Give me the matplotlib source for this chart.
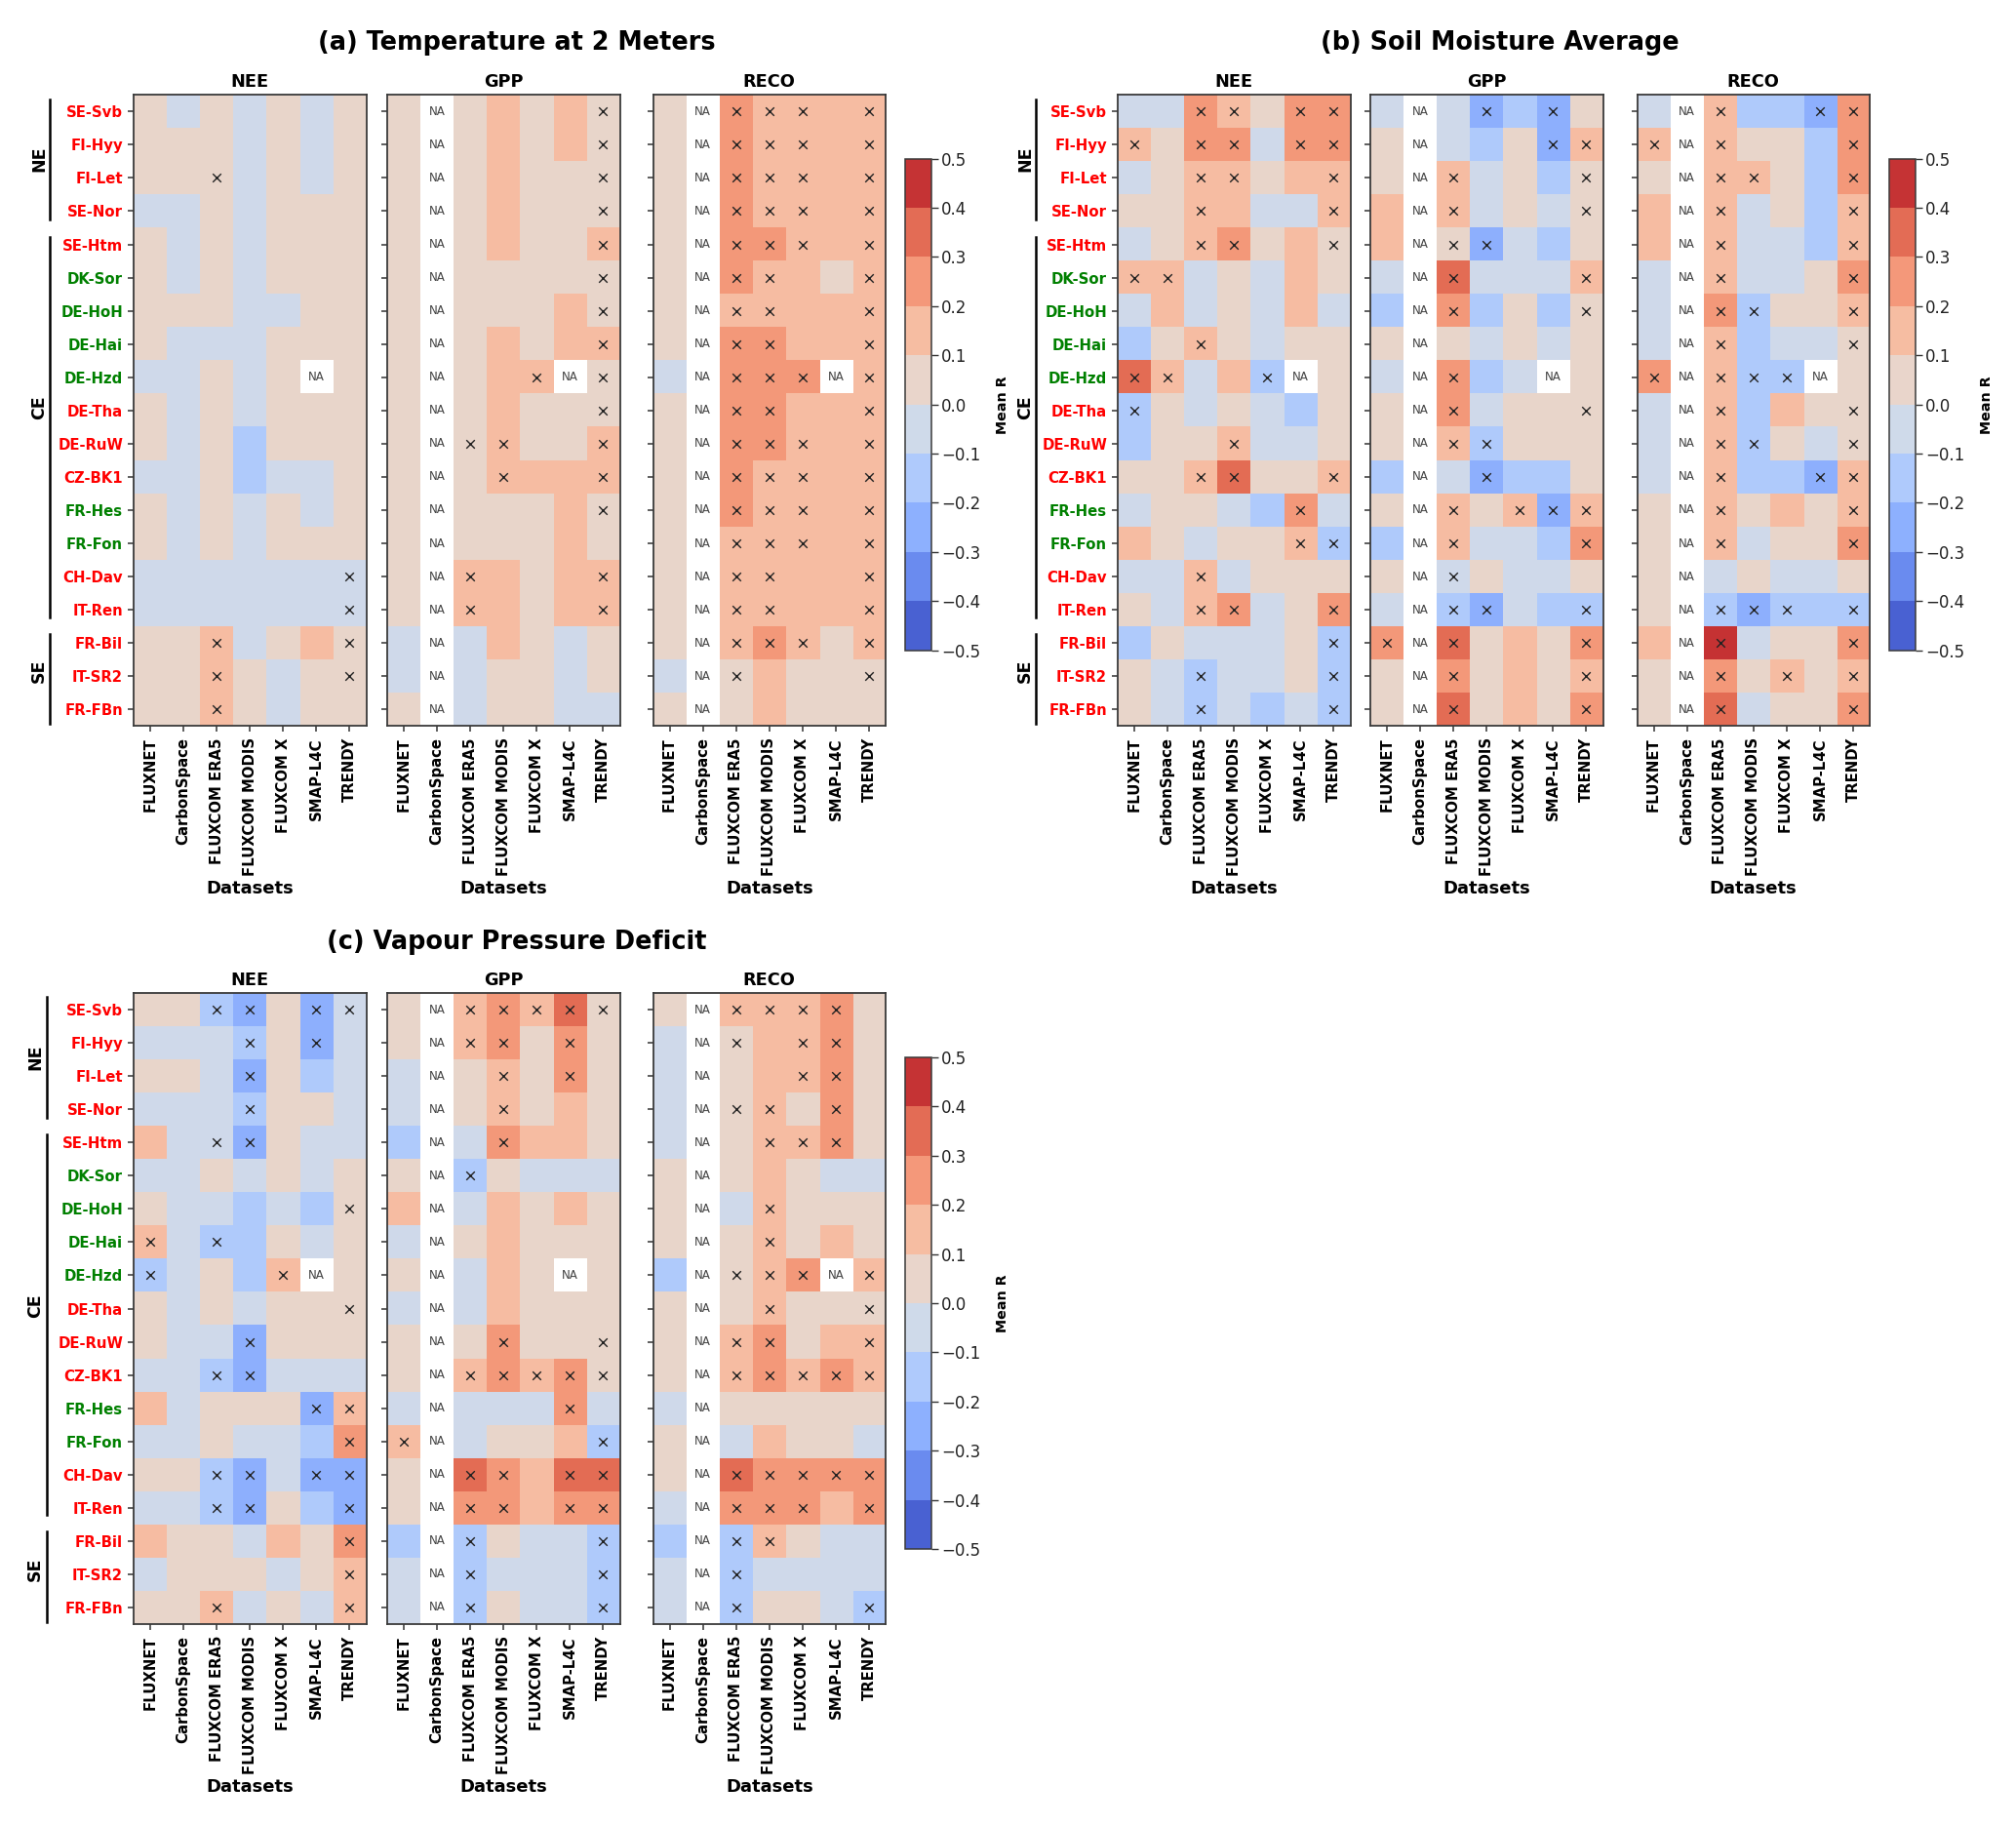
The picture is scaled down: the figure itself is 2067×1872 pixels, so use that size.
#!/usr/bin/env python3
# -*- coding: utf-8 -*-
import numpy as np
import matplotlib
matplotlib.use('Agg')
import matplotlib.pyplot as plt
from matplotlib.colors import BoundaryNorm, ListedColormap
from matplotlib.cm import ScalarMappable

sites = ['SE-Svb', 'FI-Hyy', 'FI-Let', 'SE-Nor', 'SE-Htm', 'DK-Sor', 'DE-HoH',
         'DE-Hai', 'DE-Hzd', 'DE-Tha', 'DE-RuW', 'CZ-BK1', 'FR-Hes', 'FR-Fon',
         'CH-Dav', 'IT-Ren', 'FR-Bil', 'IT-SR2', 'FR-FBn']
green_sites = ['DK-Sor', 'DE-HoH', 'DE-Hai', 'DE-Hzd', 'FR-Hes', 'FR-Fon']
datasets = ['FLUXNET', 'CarbonSpace', 'FLUXCOM ERA5', 'FLUXCOM MODIS',
            'FLUXCOM X', 'SMAP-L4C', 'TRENDY']
fluxes = ['NEE', 'GPP', 'RECO']
n = None

t2m_nee = [[5, -5, 5, -5, 5, -5, 5], [5, 5, 5, -5, 5, -5, 5], [5, 5, 5, -5, 5, -5, 5],
           [-5, -5, 5, -5, 5, 5, 5], [5, -5, 5, -5, 5, 5, 5], [5, -5, 5, -5, 5, 5, 5],
           [5, 5, 5, -5, -5, 5, 5], [5, -5, -5, -5, 5, 5, 5], [-5, -5, 5, -5, 5, n, 5],
           [5, -5, 5, -5, 5, 5, 5], [5, -5, 5, -15, 5, 5, 5], [-5, -5, 5, -15, -5, -5, 5],
           [5, -5, 5, -5, 5, -5, 5], [5, -5, 5, -5, 5, 5, 5], [-5, -5, -5, -5, -5, -5, -5],
           [-5, -5, -5, -5, -5, -5, -5], [5, 5, 15, -5, 5, 15, 5], [5, 5, 15, 5, -5, 5, 5],
           [5, 5, 15, 5, -5, 5, 5]]
t2m_gpp = [[5, n, 5, 15, 5, 15, 5], [5, n, 5, 15, 5, 15, 5], [5, n, 5, 15, 5, 5, 5],
           [5, n, 5, 15, 5, 5, 5], [5, n, 5, 15, 5, 5, 15], [5, n, 5, 5, 5, 5, 5],
           [5, n, 5, 5, 5, 15, 5], [5, n, 5, 15, 5, 15, 15], [5, n, 5, 15, 15, n, 5],
           [5, n, 5, 15, 5, 5, 5], [5, n, 5, 15, 5, 5, 15], [5, n, 5, 15, 15, 15, 15],
           [5, n, 5, 5, 5, 15, 5], [5, n, 5, 5, 5, 15, 5], [5, n, 15, 15, 5, 15, 15],
           [5, n, 15, 15, 5, 15, 15], [-5, n, -5, 15, 5, -5, 5], [-5, n, -5, 5, 5, -5, 5],
           [5, n, -5, 5, 5, -5, -5]]
t2m_reco = [[5, n, 25, 15, 15, 15, 15], [5, n, 25, 15, 15, 15, 15], [5, n, 25, 15, 15, 15, 15],
            [5, n, 25, 15, 15, 15, 15], [5, n, 25, 25, 15, 15, 15], [5, n, 25, 15, 15, 5, 15],
            [5, n, 15, 15, 15, 15, 15], [5, n, 25, 25, 15, 15, 15], [-5, n, 25, 25, 25, n, 15],
            [5, n, 25, 25, 15, 15, 15], [5, n, 25, 25, 15, 15, 15], [5, n, 25, 15, 15, 15, 15],
            [5, n, 25, 15, 15, 15, 15], [5, n, 15, 15, 15, 15, 15], [5, n, 15, 15, 15, 15, 15],
            [5, n, 15, 15, 15, 15, 15], [5, n, 15, 25, 15, 5, 15], [-5, n, 5, 15, 5, 5, 5],
            [5, n, 5, 15, 5, 5, 5]]
sm_nee = [[-5, -5, 25, 15, 5, 25, 25], [15, 5, 25, 25, -5, 25, 25], [-5, 5, 15, 15, 5, 15, 15],
          [5, 5, 15, 15, -5, -5, 15], [-5, 5, 15, 25, 5, 15, 5], [15, 15, -5, 5, -5, 15, 5],
          [-5, 15, -5, 5, -5, 15, -5], [-15, 5, 15, 5, -5, 5, 5], [35, 15, -5, 15, -15, n, 5],
          [-15, 5, -5, 5, -5, -15, 5], [-15, 5, 5, 15, -5, -5, 5], [5, 5, 15, 35, 5, 5, 15],
          [-5, 5, 5, -5, -15, 25, -5], [15, 5, -5, 5, 5, 15, -15], [-5, -5, 15, -5, 5, 5, 5],
          [5, -5, 15, 25, -5, 5, 25], [-15, 5, -5, -5, -5, 5, -15], [5, -5, -15, -5, -5, 5, -15],
          [5, -5, -15, -5, -15, -5, -15]]
sm_gpp = [[-5, n, -5, -25, -15, -25, 5], [5, n, -5, -15, 5, -25, 15], [5, n, 15, -5, 5, -15, 5],
          [15, n, 15, -5, 5, -5, 5], [15, n, 5, -25, -5, -15, 5], [-5, n, 35, -5, -5, -5, 15],
          [-15, n, 25, -15, 5, -15, 5], [5, n, 5, -5, 5, -5, 5], [-5, n, 25, -15, -5, n, 5],
          [5, n, 25, -5, 5, 5, 5], [5, n, 15, -15, 5, 5, 5], [-15, n, -5, -25, -15, -15, 5],
          [5, n, 15, 5, 15, -25, 15], [-15, n, 15, -5, -5, -15, 25], [5, n, -5, 5, -5, -5, 5],
          [-5, n, -15, -25, -5, -15, -15], [25, n, 35, 5, 15, 5, 25], [5, n, 25, 5, 15, 5, 15],
          [5, n, 35, 5, 15, 5, 25]]
sm_reco = [[-5, n, 15, -15, -15, -25, 25], [15, n, 15, 5, 5, -15, 25], [5, n, 15, 15, 5, -15, 25],
           [15, n, 15, -5, 5, -15, 15], [15, n, 15, -5, -5, -15, 15], [-5, n, 15, -5, -5, 5, 25],
           [-5, n, 25, -15, 5, 5, 15], [-5, n, 15, -15, -5, -5, 5], [25, n, 15, -15, -15, n, 5],
           [-5, n, 15, -15, 15, 5, 5], [-5, n, 15, -15, 5, -5, 5], [-5, n, 15, -15, -15, -25, 15],
           [5, n, 15, 5, 15, 5, 15], [5, n, 15, -5, 5, 5, 25], [5, n, -5, 5, -5, -5, 5],
           [5, n, -15, -25, -15, -15, -15], [15, n, 45, -5, 5, 5, 25], [5, n, 25, 5, 15, 5, 15],
           [5, n, 35, -5, 5, 5, 25]]
vpd_nee = [[5, 5, -15, -25, 5, -25, -5], [-5, -5, -5, -15, 5, -25, -5], [5, 5, -5, -25, 5, -15, -5],
           [-5, -5, -5, -15, 5, 5, -5], [15, -5, -5, -25, 5, -5, -5], [-5, -5, 5, -5, 5, -5, 5],
           [5, -5, -5, -15, -5, -15, 5], [15, -5, -15, -15, 5, -5, 5], [-15, -5, 5, -15, 15, n, 5],
           [5, -5, 5, -5, 5, 5, 5], [5, -5, -5, -25, 5, 5, 5], [-5, -5, -15, -25, -5, -5, -5],
           [15, -5, 5, 5, 5, -25, 15], [-5, -5, 5, -5, -5, -15, 25], [5, 5, -15, -25, -5, -25, -25],
           [-5, -5, -15, -25, 5, -15, -25], [15, 5, 5, -5, 15, 5, 25], [-5, 5, 5, 5, -5, 5, 15],
           [5, 5, 15, -5, 5, -5, 15]]
vpd_gpp = [[5, n, 15, 25, 15, 35, 5], [5, n, 15, 25, 5, 25, 5], [-5, n, 5, 15, 5, 25, 5],
           [-5, n, 5, 15, 5, 15, 5], [-15, n, -5, 25, 15, 15, 5], [5, n, -15, 5, -5, -5, -5],
           [15, n, -5, 15, 5, 15, 5], [-5, n, 5, 15, 5, 5, 5], [5, n, -5, 15, 5, n, 5],
           [-5, n, -5, 15, 5, 5, 5], [5, n, 5, 25, 5, 5, 5], [5, n, 15, 25, 15, 25, 5],
           [-5, n, -5, -5, -5, 25, -5], [15, n, -5, 5, 5, 15, -15], [5, n, 35, 25, 15, 35, 35],
           [5, n, 25, 25, 15, 25, 25], [-15, n, -15, 5, -5, -5, -15], [-5, n, -15, -5, -5, -5, -15],
           [-5, n, -15, 5, -5, -5, -15]]
vpd_reco = [[5, n, 15, 15, 15, 25, 5], [-5, n, 5, 15, 15, 25, 5], [-5, n, 5, 15, 15, 25, 5],
            [-5, n, 5, 15, 5, 25, 5], [-5, n, 5, 15, 15, 25, 5], [5, n, 5, 15, 5, -5, -5],
            [5, n, -5, 15, 5, 5, 5], [5, n, 5, 15, 5, 15, 5], [-15, n, 5, 15, 25, n, 15],
            [5, n, 5, 15, 5, 5, 5], [5, n, 15, 25, 5, 15, 15], [5, n, 15, 25, 15, 25, 15],
            [-5, n, 5, 5, 5, 5, 5], [5, n, -5, 15, 5, 5, -5], [5, n, 35, 25, 25, 25, 25],
            [-5, n, 25, 25, 25, 15, 25], [-15, n, -15, 15, 5, -5, -5], [-5, n, -15, -5, -5, -5, -5],
            [-5, n, -15, 5, 5, -5, -15]]

# significant cells, one string per site
t2m_nee_sig = ['.......', '.......', '..x....', '.......', '.......', '.......', '.......',
               '.......', '.......', '.......', '.......', '.......', '.......', '.......',
               '......x', '......x', '..x...x', '..x...x', '..x....']
t2m_gpp_sig = ['......x', '......x', '......x', '......x', '......x', '......x', '......x',
               '......x', '....x.x', '......x', '..xx..x', '...x..x', '......x', '.......',
               '..x...x', '..x...x', '.......', '.......', '.......']
t2m_reco_sig = ['..xxx.x', '..xxx.x', '..xxx.x', '..xxx.x', '..xxx.x', '..xx..x',
                '..xx..x', '..xx..x', '..xxx.x', '..xx..x', '..xxx.x', '..xxx.x', '..xxx.x', '..xxx.x',
                '..xx..x', '..xx..x', '..xxx.x', '..x...x', '.......']
sm_nee_sig = ['..xx.xx', 'x.xx.xx', '..xx..x', '..x...x', '..xx..x', 'xx.....', '.......',
              '..x....', 'xx..x..', 'x......', '...x...', '..xx..x', '.....x.', '.....xx',
              '..x....', '..xx..x', '......x', '..x...x', '..x...x']
sm_gpp_sig = ['...x.x.', '.....xx', '..x...x', '..x...x', '..xx...', '..x...x', '..x...x',
              '.......', '..x....', '..x...x', '..xx...', '...x...', '..x.xxx', '..x...x',
              '..x....', '..xx..x', 'x.x...x', '..x...x', '..x...x']
sm_reco_sig = ['..x..xx', 'x.x...x', '..xx..x', '..x...x', '..x...x', '..x...x', '..xx..x',
               '..x...x', 'x.xxx..', '..x...x', '..xx..x', '..x..xx', '..x...x', '..x...x',
               '.......', '..xxx.x', '..x...x', '..x.x.x', '..x...x']
vpd_nee_sig = ['..xx.xx', '...x.x.', '...x...', '...x...', '..xx...', '.......', '......x',
               'x.x....', 'x...x..', '......x', '...x...', '..xx...', '.....xx', '......x',
               '..xx.xx', '..xx..x', '......x', '......x', '..x...x']
vpd_gpp_sig = ['..xxxxx', '..xx.x.', '...x.x.', '...x...', '...x...', '..x....', '.......',
               '.......', '.......', '.......', '...x..x', '..xxxxx', '.....x.', 'x.....x',
               '..xx.xx', '..xx.xx', '..x...x', '..x...x', '..x...x']
vpd_reco_sig = ['..xxxx.', '..x.xx.', '....xx.', '..xx.x.', '...xxx.', '.......', '...x...',
                '...x...', '..xxx.x', '...x..x', '..xx..x', '..xxxxx', '.......', '.......',
                '..xxxxx', '..xxx.x', '..xx...', '..x....', '..x...x']

# pixel layout of the 2067x1872 canvas
W, H = 2067, 1872
AX_W, AX_H = 238.5, 647


def px_axes(fig, left, top, width, height):
    return fig.add_axes([left / W, 1 - (top + height) / H, width / W, height / H])


def draw_panel(fig, title, title_xy, lefts, top, cb_left, cb_top, line_dx, label_dx, vals, sigs):
    # colours taken at the middle of each of the ten bins
    cmap = ListedColormap(plt.cm.coolwarm((np.arange(10) + 0.5) / 10))
    cmap.set_bad('white')
    norm = BoundaryNorm(np.arange(-0.5, 0.51, 0.1), 10)

    fig.text(title_xy[0] / W, 1 - title_xy[1] / H, title, fontsize=18.4,
             fontweight='bold', ha='center', va='center')

    for j, flux in enumerate(fluxes):
        ax = px_axes(fig, lefts[j], top, AX_W, AX_H)
        arr = np.array(vals[j], dtype=float) / 100
        ax.imshow(arr, cmap=cmap, norm=norm, aspect='auto', interpolation='nearest')
        for r, row in enumerate(sigs[j]):
            for c, mark in enumerate(row):
                if mark == 'x':
                    ax.scatter(c, r, marker='x', s=38, color='#222222', linewidths=1)
        for r, c in zip(*np.where(np.isnan(arr))):
            ax.text(c, r, 'NA', fontsize=8.6, color='#444444', ha='center', va='center')
        ax.set_xlim(-0.5, 6.5)
        ax.set_ylim(18.5, -0.5)
        ax.set_title(flux, fontsize=12.8, fontweight='bold', pad=6)
        ax.set_xticks(range(len(datasets)))
        ax.set_xticklabels(datasets, rotation=90, fontsize=10.7, fontweight='bold')
        ax.set_yticks(range(len(sites)))
        ax.tick_params(axis='x', length=4.6, width=1.1, pad=4, color='#333333')
        ax.tick_params(axis='y', length=4.4, width=1.1, pad=3.5, color='#333333')
        ax.set_xlabel('Datasets', fontsize=13, fontweight='bold', va='center')
        ax.xaxis.set_label_coords(0.5, -167 / AX_H)
        for sp in ax.spines.values():
            sp.set_linewidth(1.3)
            sp.set_color('#3a3a3a')
        if j == 0:
            ax.set_yticklabels(sites, fontsize=10.7, fontweight='bold')
            for lab in ax.get_yticklabels():
                lab.set_color('green' if lab.get_text() in green_sites else 'red')
            for name, y0, y1, ylab in [('NE', -0.37, 3.26, 1.43),
                                       ('CE', 3.77, 15.22, 8.91),
                                       ('SE', 15.72, 18.43, 16.85)]:
                xl = -0.5 - line_dx / (AX_W / 7)
                ax.plot([xl, xl], [y0, y1], color='black', lw=1.8, clip_on=False)
                ax.text(-0.5 - label_dx / (AX_W / 7), ylab, name, rotation=90, fontsize=12.5,
                        fontweight='bold', ha='center', va='center', clip_on=False)
        else:
            ax.set_yticklabels([])

    cax = px_axes(fig, cb_left, cb_top, 27, 504)
    cb = fig.colorbar(ScalarMappable(norm=norm, cmap=cmap), cax=cax,
                      ticks=np.arange(-0.5, 0.51, 0.1), spacing='proportional')
    cb.ax.set_yticklabels(['\u22120.5', '\u22120.4', '\u22120.3', '\u22120.2', '\u22120.1',
                           '0.0', '0.1', '0.2', '0.3', '0.4', '0.5'])
    cb.ax.tick_params(labelsize=12, length=4.8, width=1, color='#333333', labelcolor='#222222', pad=3)
    cb.outline.set_linewidth(1.1)
    cb.outline.set_edgecolor('#3a3a3a')
    cb.set_label('Mean R', fontsize=10.3, fontweight='bold')
    cb.ax.yaxis.set_label_coords(3.48, 0.5)


fig = plt.figure(figsize=(W / 100, H / 100), dpi=100)
draw_panel(fig, '(a) Temperature at 2 Meters', (530, 44), [137, 397, 669.5], 97.3, 927.5, 162.7,
           86, 97, [t2m_nee, t2m_gpp, t2m_reco], [t2m_nee_sig, t2m_gpp_sig, t2m_reco_sig])
draw_panel(fig, '(b) Soil Moisture Average', (1538, 44), [1146, 1405, 1678.5], 97.3, 1936.5, 162.7,
           84, 95, [sm_nee, sm_gpp, sm_reco], [sm_nee_sig, sm_gpp_sig, sm_reco_sig])
draw_panel(fig, '(c) Vapour Pressure Deficit', (530, 966), [137, 397, 669.5], 1018, 927.5, 1084,
           89.4, 101, [vpd_nee, vpd_gpp, vpd_reco], [vpd_nee_sig, vpd_gpp_sig, vpd_reco_sig])
plt.savefig('out.png', dpi=100)
